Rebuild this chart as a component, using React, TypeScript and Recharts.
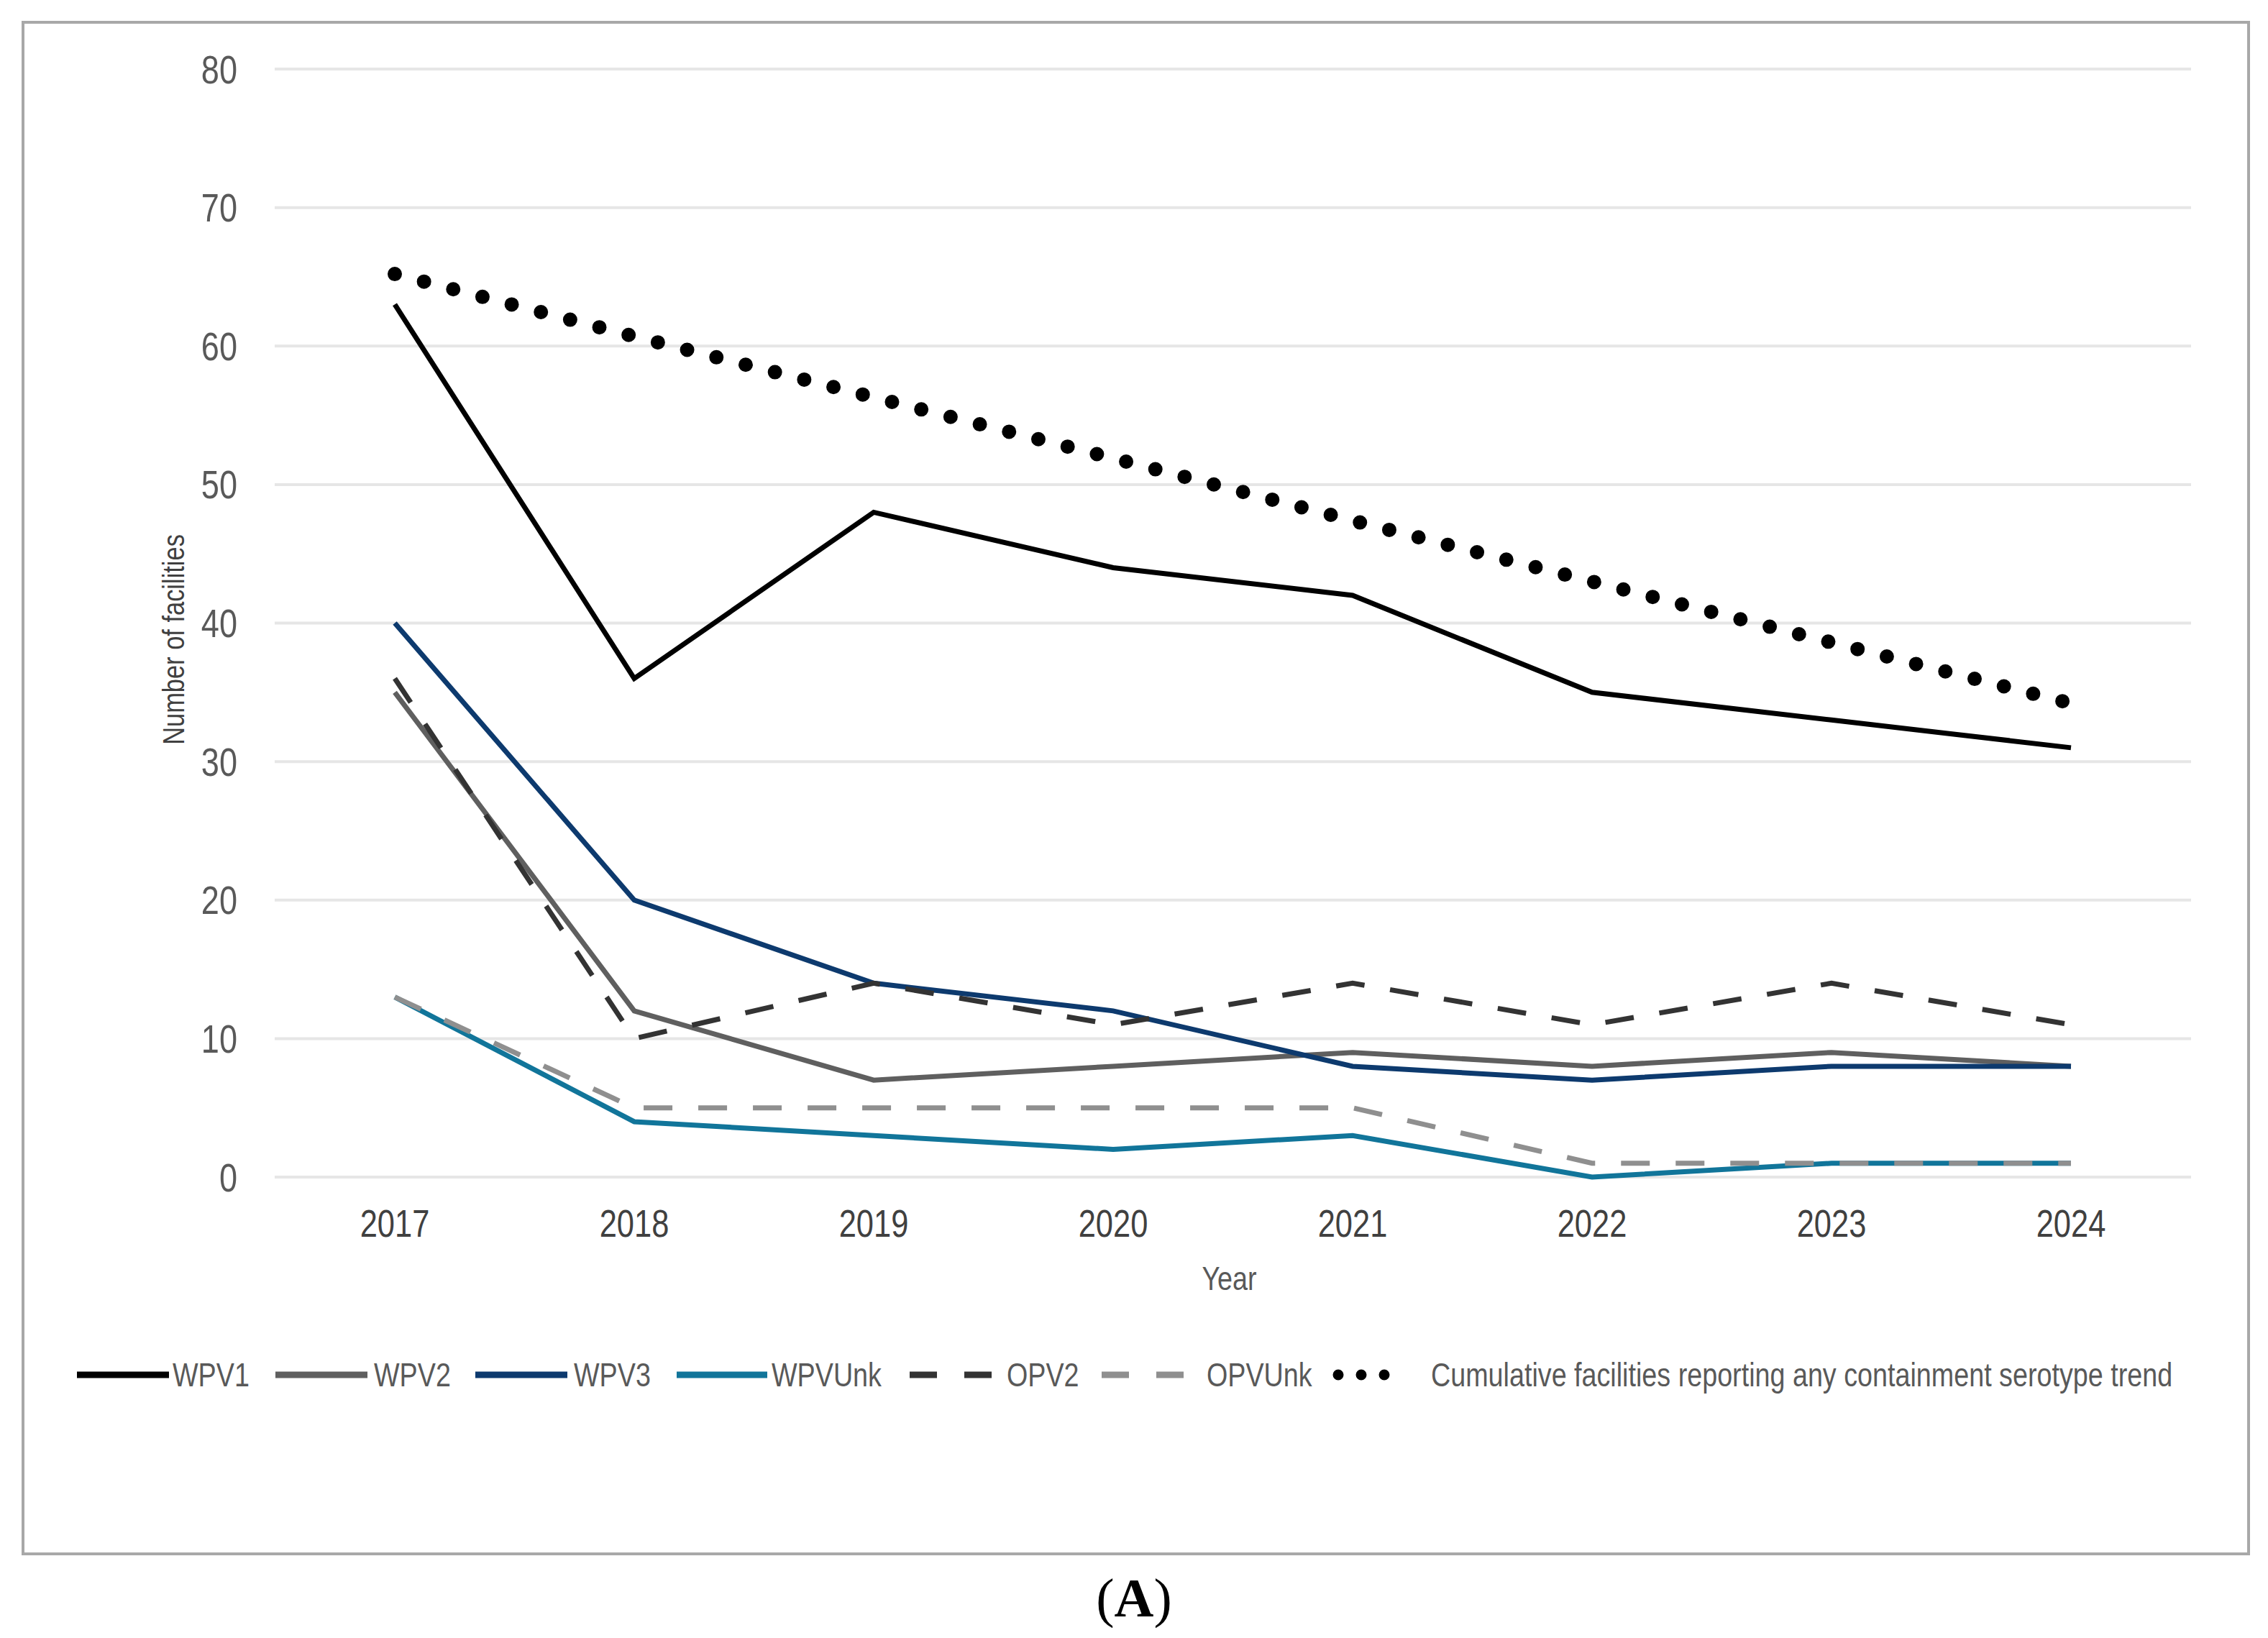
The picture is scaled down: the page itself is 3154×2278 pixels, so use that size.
import React from 'react';
import { LineChart, Line, XAxis, YAxis, CartesianGrid, Legend, Label } from 'recharts';

const years = ['2017', '2018', '2019', '2020', '2021', '2022', '2023', '2024'];
const wpv1 = [63, 36, 48, 44, 42, 35, 33, 31];
const wpv2 = [35, 12, 7, 8, 9, 8, 9, 8];
const wpv3 = [40, 20, 14, 12, 8, 7, 8, 8];
const wpvUnk = [13, 4, 3, 2, 3, 0, 1, 1];
const opv2 = [36, 10, 14, 11, 14, 11, 14, 11];
const opvUnk = [13, 5, 5, 5, 5, 1, 1, 1];
const cumulativeTrend = [65.2, 60.7, 56.3, 51.9, 47.4, 43.0, 38.6, 34.2];
const yTicks = [0, 10, 20, 30, 40, 50, 60, 70, 80];

const data = years.map((y, i) => ({
  year: y,
  WPV1: wpv1[i],
  WPV2: wpv2[i],
  WPV3: wpv3[i],
  WPVUnk: wpvUnk[i],
  OPV2: opv2[i],
  OPVUnk: opvUnk[i],
  Cumulative: cumulativeTrend[i],
}));

const FONT = "'Liberation Sans', Arial, sans-serif";
const SQUEEZE = 0.82;

type Kind = 'solid' | 'dash' | 'dot';
const series: { key: string; label: string; color: string; kind: Kind }[] = [
  { key: 'WPV1', label: 'WPV1', color: '#000000', kind: 'solid' },
  { key: 'WPV2', label: 'WPV2', color: '#5f5f5f', kind: 'solid' },
  { key: 'WPV3', label: 'WPV3', color: '#0d3a6e', kind: 'solid' },
  { key: 'WPVUnk', label: 'WPVUnk', color: '#11759a', kind: 'solid' },
  { key: 'OPV2', label: 'OPV2', color: '#333333', kind: 'dash' },
  { key: 'OPVUnk', label: 'OPVUnk', color: '#8f8f8f', kind: 'dash' },
  { key: 'Cumulative', label: 'Cumulative facilities reporting any containment serotype trend', color: '#000000', kind: 'dot' },
];

// legend layout (pixel positions of icon start, icon width, text start)
const legendLayout = [
  { icon: 107, iconW: 128, text: 240 },
  { icon: 383, iconW: 128, text: 520 },
  { icon: 661, iconW: 128, text: 798 },
  { icon: 941, iconW: 126, text: 1073 },
  { icon: 1265, iconW: 114, text: 1400 },
  { icon: 1532, iconW: 116, text: 1678 },
  { icon: 1853, iconW: 111, text: 1990 },
];

const renderLegend = () => (
  <svg width={3154} height={60} style={{ display: 'block' }}>
    {series.map((s, i) => {
      const L = legendLayout[i];
      const cy = 30;
      return (
        <g key={s.key}>
          {s.kind === 'solid' && <line x1={L.icon} y1={cy} x2={L.icon + L.iconW} y2={cy} stroke={s.color} strokeWidth={9} />}
          {s.kind === 'dash' && <line x1={L.icon} y1={cy} x2={L.icon + L.iconW} y2={cy} stroke={s.color} strokeWidth={9} strokeDasharray="38 38" />}
          {s.kind === 'dot' && <line x1={L.icon + 8} y1={cy} x2={L.icon + L.iconW - 7} y2={cy} stroke={s.color} strokeWidth={15} strokeLinecap="round" strokeDasharray="0 32" />}
          <text transform={`translate(${L.text},${cy}) scale(${SQUEEZE},1)`} dy="0.355em" fontSize={46} fontFamily={FONT} fill="#595959">
            {s.label}
          </text>
        </g>
      );
    })}
  </svg>
);

const lineStyle = (kind: Kind) => {
  if (kind === 'dash') return { strokeWidth: 7, strokeDasharray: '40 36' };
  if (kind === 'dot') return { strokeWidth: 20, strokeDasharray: '0 42', strokeLinecap: 'round' as const };
  return { strokeWidth: 7 };
};

const XTick = (props: any) => {
  const { x, y, payload } = props;
  return (
    <text transform={`translate(${x},${y}) scale(${SQUEEZE},1)`} textAnchor="middle" dy="0.71em" fill="#404040" fontSize={53} fontFamily={FONT}>
      {payload.value}
    </text>
  );
};

const YTick = (props: any) => {
  const { x, y, payload } = props;
  return (
    <text transform={`translate(${x},${y}) scale(${SQUEEZE},1)`} textAnchor="end" dy="0.355em" fill="#595959" fontSize={55} fontFamily={FONT}>
      {payload.value}
    </text>
  );
};

export default function App() {
  return (
    <div style={{ position: 'absolute', left: 0, top: 0, width: 3154, height: 2278, background: '#ffffff', overflow: 'hidden' }}>
      <div style={{ position: 'absolute', left: 30, top: 29, width: 3091, height: 2126, border: '4px solid #a8a8a8' }} />
      <div style={{ position: 'absolute', left: 0, top: 0 }}>
        <LineChart width={3154} height={2278} data={data} margin={{ top: 96, right: 107, bottom: 481, left: 0 }}>
          <CartesianGrid vertical={false} stroke="#e6e6e6" strokeWidth={4} />
          <XAxis
            dataKey="year"
            axisLine={false}
            tickLine={false}
            tickSize={0}
            tickMargin={45}
            interval={0}
            height={160}
            padding={{ left: 167, right: 167 }}
            tick={<XTick />}
          >
            <Label
              content={(props: any) => {
                const vb = props.viewBox || {};
                const cx = vb.x + vb.width / 2 - 5;
                const cy = 1778;
                return (
                  <text transform={`translate(${cx},${cy}) scale(${SQUEEZE},1)`} textAnchor="middle" dy="0.355em" fill="#595959" fontSize={46} fontFamily={FONT}>
                    Year
                  </text>
                );
              }}
            />
          </XAxis>
          <YAxis
            width={382}
            domain={[0, 80]}
            ticks={yTicks}
            axisLine={false}
            tickLine={false}
            tickSize={0}
            tickMargin={52}
            interval={0}
            tick={<YTick />}
          >
            <Label
              content={(props: any) => {
                const vb = props.viewBox || {};
                const cx = 241;
                const cy = vb.y + vb.height / 2 + 23;
                return (
                  <text transform={`translate(${cx},${cy}) rotate(-90) scale(${SQUEEZE},1)`} textAnchor="middle" dy="0.355em" fill="#404040" fontSize={42} fontFamily={FONT}>
                    Number of facilities
                  </text>
                );
              }}
            />
          </YAxis>
          <Legend
            layout="horizontal"
            verticalAlign="middle"
            align="center"
            content={renderLegend}
            wrapperStyle={{ position: 'absolute', left: 0, top: 1882, width: 3154, height: 60, margin: 0 }}
          />
          {series.map((s) => (
            <Line
              key={s.key}
              type="linear"
              dataKey={s.key}
              name={s.label}
              stroke={s.color}
              dot={false}
              activeDot={false}
              isAnimationActive={false}
              {...lineStyle(s.kind)}
            />
          ))}
        </LineChart>
      </div>
      <div style={{ position: 'absolute', left: 0, top: 2179, width: 3154, height: 86, lineHeight: '86px', textAlign: 'center', fontFamily: "'Liberation Serif', 'Times New Roman', serif", fontSize: 76, color: '#000' }}>
        (<b>A</b>)
      </div>
    </div>
  );
}
